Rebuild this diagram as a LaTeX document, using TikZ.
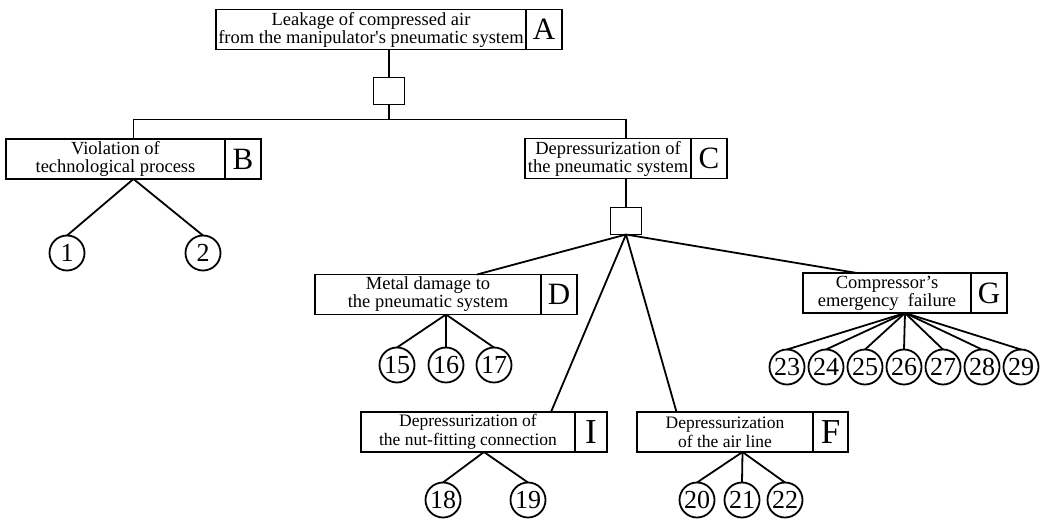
\documentclass[tikz,border=0pt]{standalone}
\usepackage{fontspec}
\setmainfont{Liberation Serif}
\usetikzlibrary{calc}
\usetikzlibrary{positioning}
\usetikzlibrary{fit}
\tikzstyle{evtext} = [draw, rectangle, outer sep=0, inner sep=1pt, minimum height=40pt, align=center, font=\fontsize{18.5}{18}\selectfont]
\tikzstyle{evletter} = [draw, rectangle, outer sep=0, inner sep=0, minimum width=36pt, minimum height=40pt, font=\fontsize{31}{31}\selectfont]
\tikzstyle{evsmall} = [font=\fontsize{17.5}{19}\selectfont]
\tikzstyle{evbig} = [font=\fontsize{35}{35}\selectfont]
\tikzstyle{evbox} = [inner sep=0, outer sep=0]
\tikzstyle{gatenode} = [draw, rectangle, outer sep=0, minimum width=31pt, minimum height=27pt]
\tikzstyle{basenode} = [draw, circle, outer sep=0, inner sep=0, minimum size=35pt, font=\fontsize{26}{26}\selectfont]

\begin{document}
\begin{tikzpicture}[x=1pt, y=-1pt, line width=1.8pt]
\useasboundingbox (0,0) rectangle (1042,520);

\node[evtext, minimum width=310pt] (a_txt) at (371,29.5) {Leakage of compressed air\\from the manipulator\textquotesingle s pneumatic system};
\node[evletter, right=0pt of a_txt] (a_id) {A};
\node[evbox, fit=(a_txt)(a_id)] (a) {};

\node[evtext, minimum width=219pt] (b_txt) at (115.5,159) {Violation of\\technological process};
\node[evletter, right=0pt of b_txt] (b_id) {B};
\node[evbox, fit=(b_txt)(b_id)] (b) {};

\node[evtext, minimum width=166pt] (c_txt) at (608,158.5) {Depressurization of\\the pneumatic system};
\node[evletter, right=0pt of c_txt] (c_id) {C};
\node[evbox, fit=(c_txt)(c_id)] (c) {};

\node[evtext, minimum width=226pt] (d_txt) at (428,294.5) {Metal damage to\\the pneumatic system};
\node[evletter, right=0pt of d_txt] (d_id) {D};
\node[evbox, fit=(d_txt)(d_id)] (d) {};

\node[evtext, minimum width=168pt] (g_txt) at (887,293) {Compressor’s\\emergency\ \ failure};
\node[evletter, right=0pt of g_txt] (g_id) {G};
\node[evbox, fit=(g_txt)(g_id)] (g) {};

\node[evtext, evsmall, minimum width=214pt] (i_txt) at (468,432) {Depressurization of\\the nut-fitting connection};
\node[evletter, evbig, minimum width=32pt, right=0pt of i_txt] (i_id) {I};
\node[evbox, fit=(i_txt)(i_id)] (i) {};

\node[evtext, evsmall, minimum width=176pt] (f_txt) at (725,432) {Depressurization\\of the air line};
\node[evletter, evbig, minimum width=35pt, right=0pt of f_txt] (f_id) {F};
\node[evbox, fit=(f_txt)(f_id)] (f) {};

\node[gatenode] (gate_a) at ($(a.south)+(0,41.5)$) {};
\node[gatenode] (gate_c) at ($(c.south)+(0,42.5)$) {};
\coordinate (bus_a) at ($(gate_a.south)+(0,15)$);

\node[basenode] (e1) at (67,253) {1};
\node[basenode] (e2) at (203,253) {2};
\node[basenode] (e15) at (397,365) {15};
\node[basenode] (e16) at (446,365) {16};
\node[basenode] (e17) at (494,365) {17};
\node[basenode] (e18) at (443,500) {18};
\node[basenode] (e19) at (528,500) {19};
\node[basenode] (e20) at (697,500) {20};
\node[basenode] (e21) at (742,500) {21};
\node[basenode] (e22) at (785,500) {22};
\foreach \n [count=\k from 0] in {23,...,29}
    \node[basenode] (e\n) at (787+39*\k,367) {\n};

\draw (a.south) -- (gate_a.north);
\draw (gate_a.south) -- (bus_a);
\draw (b.north) |- (bus_a) -| (c.north);
\draw (c.south) -- (gate_c.north);
\draw (gate_c.south) -- ($(d.north)+(31,0)$);
\draw (gate_c.south) -- ($(i.north)+(67,0)$);
\draw (gate_c.south) -- ($(f.north)+(-66,0)$);
\draw (gate_c.south) -- ($(g.north)+(-48,0)$);

\draw (b.south) -- (e1.north);
\draw (b.south) -- (e2.north);
\foreach \n in {15,16,17}
    \draw (d.south) -- (e\n.north);
\foreach \n in {18,19}
    \draw (i.south) -- (e\n.north);
\foreach \n in {20,21,22}
    \draw (f.south) -- (e\n.north);
\foreach \n in {23,...,29}
    \draw (g.south) -- (e\n.north);
\end{tikzpicture}
\end{document}
